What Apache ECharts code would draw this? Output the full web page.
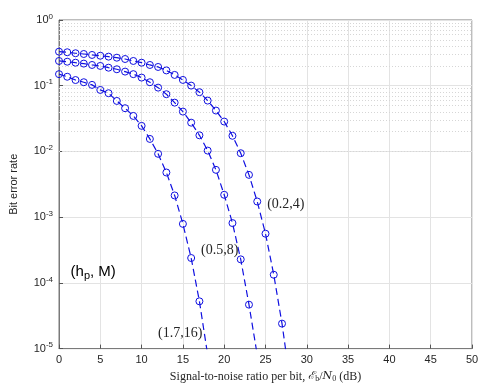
<!DOCTYPE html>
<html>
<head>
<meta charset="utf-8">
<script src="https://cdn.jsdelivr.net/npm/echarts@6/dist/echarts.min.js"></script>
<style>
html,body{margin:0;padding:0;background:#fff;}
#c{width:496px;height:388px;}
</style>
</head>
<body>
<div id="c"></div>
<script>
// ---- data ----
const snrA = [0,1,2,3,4,5,6,7,8,9,10,11,12,13,14,15,16,17,18,19,20,21,22,23,24,25,26,27,28];
const berA = [0.330,0.323,0.312,0.304,0.294,0.286,0.277,0.267,0.255,0.238,0.224,0.207,0.193,0.171,0.146,0.1225,0.1004,0.0797,0.0594,0.0419,0.0285,0.0173,0.0094,0.0044,0.00173,5.6e-4,1.33e-4,2.4e-5,3e-6];
const snrB = [0,1,2,3,4,5,6,7,8,9,10,11,12,13,14,15,16,17,18,19,20,21,22,23,24];
const berB = [0.238,0.232,0.224,0.217,0.207,0.200,0.188,0.178,0.164,0.150,0.133,0.113,0.0935,0.0743,0.0553,0.0404,0.0274,0.0176,0.0103,0.00525,0.00219,8.13e-4,2.28e-4,4.66e-5,8e-6];
const snrC = [0,1,2,3,4,5,6,7,8,9,10,11,12,13,14,15,16,17,18];
const berC = [0.150,0.137,0.122,0.113,0.103,0.0863,0.0769,0.0587,0.0455,0.0347,0.0245,0.0155,0.0092,0.00478,0.00214,7.9e-4,2.39e-4,5.24e-5,8e-6];
const curveLabels = ['(0.2,4)', '(0.5,8)', '(1.7,16)'];
const labelAnchors = [[25.2, 1.45e-3], [17.2, 2.9e-4], [12.0, 1.58e-5]];
const xTicks = [0,5,10,15,20,25,30,35,40,45,50];
const yMinorGrid = [];
[1e-5,1e-4,1e-3,1e-2,1e-1].forEach(d => { for (let k = 2; k <= 9; k++) yMinorGrid.push(+(d*k).toPrecision(3)); });

const BLUE = '#1010e0';
const AX = '#262626';

function curve(xs, ys) {
  return {
    type: 'line',
    data: xs.map((x, i) => [x, ys[i]]),
    symbol: 'circle',
    symbolSize: 7,
    clip: true,
    lineStyle: { color: BLUE, width: 1.2, type: [7, 4] },
    itemStyle: { color: 'rgba(0,0,0,0)', borderColor: BLUE, borderWidth: 1 },
    emphasis: { disabled: true },
    z: 5
  };
}

const chart = echarts.init(document.getElementById('c'), null, { renderer: 'canvas' });
const option = {
  animation: false,
  grid: { left: 55, right: 24, top: 20, bottom: 39, show: true, borderColor: '#7a7a7a', borderWidth: 1, backgroundColor: '#fff' },
  xAxis: {
    type: 'value', min: 0, max: 50, interval: 5,
    axisLine: { show: true, lineStyle: { color: '#7a7a7a' } },
    axisTick: { show: true, inside: true, length: 4, lineStyle: { color: '#555' } },
    axisLabel: { color: AX, fontFamily: 'Liberation Sans, Arial', fontSize: 11, margin: 6 },
    splitLine: { show: true, lineStyle: { color: '#e3e3e3', width: 1 } },
    name: 'Signal-to-noise ratio per bit, {i|ℰ}{sub|b}{n|/}{i|N}{sub|0}{n| (dB)}',
    nameLocation: 'middle', nameGap: 19,
    nameTextStyle: {
      color: AX, fontFamily: 'Liberation Serif, DejaVu Serif, serif', fontSize: 12,
      rich: {
        i: { fontFamily: 'DejaVu Serif, Liberation Serif, serif', fontStyle: 'italic', fontSize: 11, color: AX },
        n: { fontFamily: 'Liberation Serif, serif', fontSize: 12, color: AX },
        sub: { fontFamily: 'Liberation Serif, serif', fontSize: 8, color: AX, padding: [5, 0, 0, 0] }
      }
    }
  },
  yAxis: {
    type: 'log', logBase: 10, min: 1e-5, max: 1,
    axisLine: { show: true, lineStyle: { color: '#7a7a7a' } },
    axisTick: { show: true, inside: true, length: 4, lineStyle: { color: '#555' } },
    axisLabel: {
      margin: 6,
      formatter: v => '{b|10}{s|' + Math.round(Math.log10(v)) + '}',
      rich: {
        b: { fontFamily: 'Liberation Sans, Arial', fontSize: 11, color: AX },
        s: { fontFamily: 'Liberation Sans, Arial', fontSize: 8, color: AX, padding: [0, 0, 7, 0] }
      }
    },
    splitLine: { show: true, lineStyle: { color: '#e3e3e3', width: 1 } },
    name: 'Bit error rate', nameLocation: 'middle', nameGap: 40,
    nameTextStyle: { color: AX, fontFamily: 'Liberation Sans, Arial', fontSize: 11 }
  },
  series: [
    Object.assign(curve(snrA, berA), {
      markLine: {
        silent: true, symbol: 'none', animation: false, label: { show: false },
        lineStyle: { color: '#d6d6d6', type: [1, 2], width: 1 },
        data: yMinorGrid.map(v => ({ yAxis: v }))
      }
    }),
    curve(snrB, berB),
    curve(snrC, berC)
  ]
};
chart.setOption(option);

const g = curveLabels.map((t, i) => {
  const p = chart.convertToPixel({ gridIndex: 0 }, labelAnchors[i]);
  return {
    type: 'text', left: p[0], top: p[1] - 9, z: 10,
    style: { text: t, fill: AX, font: '14px "Liberation Serif", "DejaVu Serif", serif' }
  };
});
const hp = chart.convertToPixel({ gridIndex: 0 }, [1.4, 1.33e-4]);
g.push({
  type: 'text', left: hp[0], top: hp[1] - 10, z: 10,
  style: {
    text: '(h{s|p}, M)', fill: '#000', font: '15px "Liberation Sans", Arial',
    rich: { s: { fontSize: 11, fontFamily: 'Liberation Sans, Arial', fill: '#000', padding: [7, 0, 0, 0] } }
  }
});
chart.setOption({ graphic: g });
</script>
</body>
</html>
